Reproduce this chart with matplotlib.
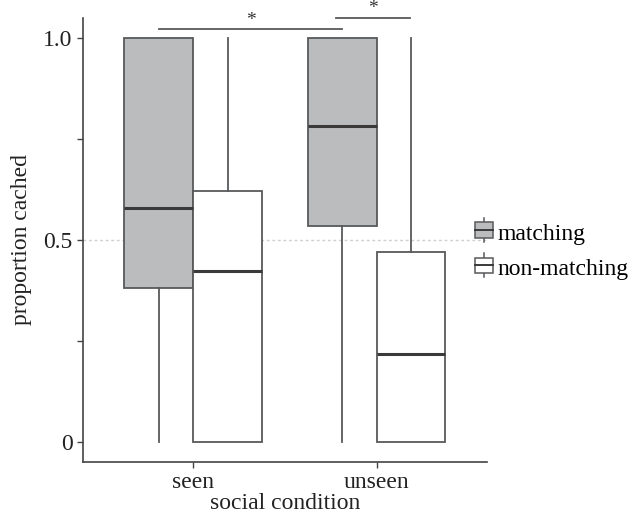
import numpy as np
import matplotlib.pyplot as plt
from matplotlib.patches import Rectangle
from matplotlib.lines import Line2D
from matplotlib.legend_handler import HandlerBase

plt.rcParams['font.family'] = ['Liberation Serif', 'DejaVu Serif']

conditions = ["seen", "unseen"]
groups = ["matching", "non-matching"]
fills = {"matching": "#bbbcbe", "non-matching": "#ffffff"}

# box stats, per group, in order of conditions
q1 = {"matching": [0.380, 0.534], "non-matching": [0.0, 0.0]}
med = {"matching": [0.578, 0.782], "non-matching": [0.422, 0.217]}
q3 = {"matching": [1.0, 1.0], "non-matching": [0.621, 0.470]}
whislo = {"matching": [0.0, 0.0], "non-matching": [0.0, 0.0]}
whishi = {"matching": [1.0, 1.0], "non-matching": [1.0, 1.0]}

edge = "#58595b"

fig = plt.figure(figsize=(6.35, 5.13), dpi=100)
ax = fig.add_axes([0.1307, 0.0994, 0.6358, 0.8656])

ax.axhline(0.5, color="#cfcfcf", lw=1, ls=(0, (2, 2)), zorder=0)

width = 0.375
offsets = {"matching": -width / 2, "non-matching": width / 2}
for g in groups:
    stats = []
    for i in range(len(conditions)):
        stats.append(dict(med=med[g][i], q1=q1[g][i], q3=q3[g][i],
                          whislo=whislo[g][i], whishi=whishi[g][i], fliers=[]))
    pos = np.arange(1, len(conditions) + 1) + offsets[g]
    ax.bxp(stats, positions=pos, widths=width, patch_artist=True,
           showcaps=False, manage_ticks=False,
           boxprops=dict(facecolor=fills[g], edgecolor=edge, lw=1.3),
           whiskerprops=dict(color=edge, lw=1.3),
           medianprops=dict(color="#3a3a3a", lw=2.2))

# significance bars
sig = [(1 - width / 2, 2 - width / 2, 1.0215), (1.78, 2.18, 1.05)]
for x0, x1, y in sig:
    ax.plot([x0, x1], [y, y], color=edge, lw=1.3, clip_on=False)
    ax.text((x0 + x1) / 2, y + 0.002, "*", ha="center", va="bottom",
            fontsize=14, color="#333333", clip_on=False)

ax.set_xlim(0.4, 2.6)
ax.set_ylim(-0.05, 1.05)
ax.set_xticks([1, 2])
ax.set_xticklabels(conditions)
ax.set_yticks([0, 0.25, 0.5, 0.75, 1.0])
ax.set_yticklabels(["0", "", "0.5", "", "1.0"])
for s in ["top", "right"]:
    ax.spines[s].set_visible(False)
for s in ["left", "bottom"]:
    ax.spines[s].set_color("#444444")
    ax.spines[s].set_linewidth(1.2)
ax.tick_params(colors="#444444", labelcolor="#222222", labelsize=17,
               length=4, width=1)
ax.set_xlabel("social condition", fontsize=17, color="#222222", labelpad=0)
ax.set_ylabel("proportion cached", fontsize=17, color="#222222", labelpad=8)


class BoxKey(HandlerBase):
    def create_artists(self, legend, orig, xd, yd, w, h, fs, trans):
        fc = orig.get_facecolor()
        cx = xd + w / 2
        line = Line2D([cx, cx], [yd - 2, yd + h + 2], color=edge, lw=1.1,
                      transform=trans)
        box = Rectangle((xd, yd + 1), w, h - 2, facecolor=fc,
                        edgecolor=edge, lw=1.1, transform=trans)
        mid = Line2D([xd, xd + w], [yd + h / 2, yd + h / 2], color="#3a3a3a",
                     lw=1.4, transform=trans)
        return [line, box, mid]


handles = [Rectangle((0, 0), 1, 1, facecolor=fills[g]) for g in groups]
fig.legend(handles, groups, handler_map={Rectangle: BoxKey()},
           loc="center left", bbox_to_anchor=(0.748, 0.51), frameon=False,
           borderpad=0, borderaxespad=0,
           fontsize=17, handlelength=0.75, handleheight=0.8, handletextpad=0.2,
           labelspacing=0.55)

fig.savefig("out.png", dpi=100)
